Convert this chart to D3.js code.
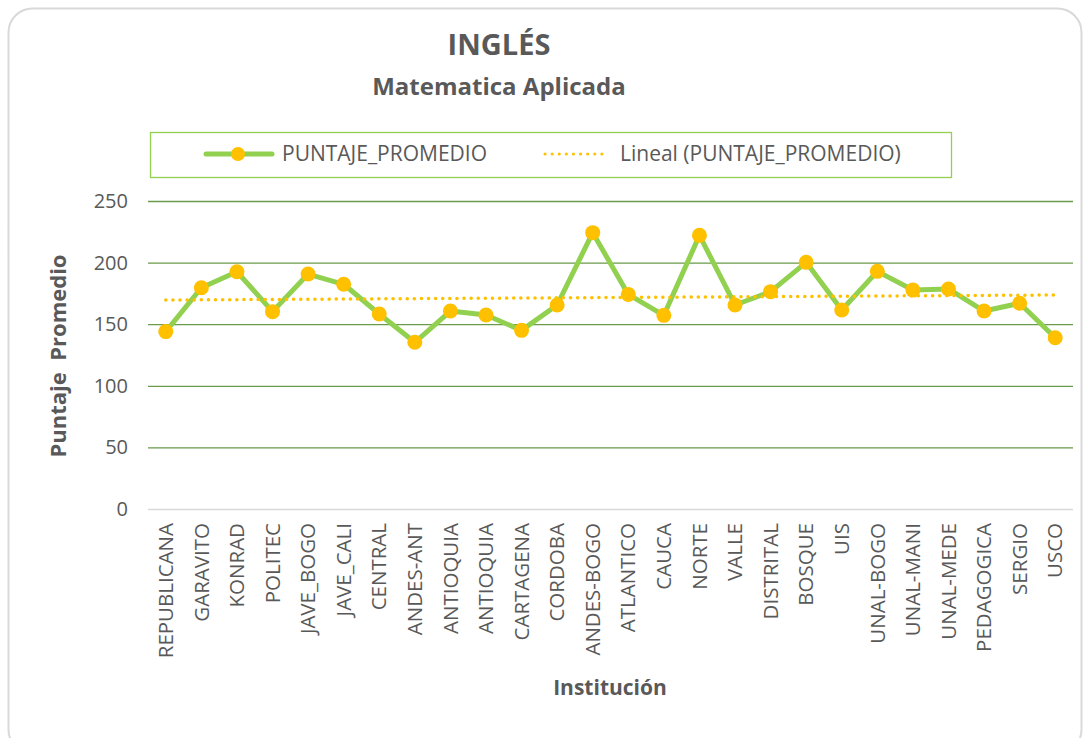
<!DOCTYPE html>
<html>
<head>
<meta charset="utf-8">
<script src="https://cdn.jsdelivr.net/npm/d3@7"></script>
<style>
  html, body { margin: 0; padding: 0; background: #fff; }
  svg text { font-family: "Open Sans", "Noto Sans", sans-serif; fill: #595959; }
</style>
</head>
<body>
<svg id="chart" width="1086" height="738"></svg>
<script>
// Data
const INSTITUCIONES = ["REPUBLICANA", "GARAVITO", "KONRAD", "POLITEC", "JAVE_BOGO", "JAVE_CALI",
  "CENTRAL", "ANDES-ANT", "ANTIOQUIA", "ANTIOQUIA", "CARTAGENA", "CORDOBA", "ANDES-BOGO",
  "ATLANTICO", "CAUCA", "NORTE", "VALLE", "DISTRITAL", "BOSQUE", "UIS", "UNAL-BOGO",
  "UNAL-MANI", "UNAL-MEDE", "PEDAGOGICA", "SERGIO", "USCO"];
const PUNTAJE_PROMEDIO = [144, 179.6, 192.6, 160.2, 190.7, 182.4, 158.3, 135.3, 160.7, 157.5,
  145, 165.6, 224.3, 174.2, 157.2, 222.1, 165.6, 176.4, 200.2, 161.5, 192.9, 177.7, 178.6,
  160.7, 167, 139];
// Linear trend (first and last category)
const TENDENCIA = [169.6, 173.7];
const Y_TICKS = [0, 50, 100, 150, 200, 250];

const GREEN = "#92d050";
const ORANGE = "#ffc000";

const svg = d3.select("#chart");
const margin = { top: 201, right: 13, bottom: 229, left: 148 };
const W = 1086, H = 738;
const w = W - margin.left - margin.right;
const h = H - margin.top - margin.bottom;

// outer chart frame
svg.append("rect")
  .attr("x", 8.5).attr("y", 8.5)
  .attr("width", 1073).attr("height", 745)
  .attr("rx", 24)
  .attr("fill", "#fff")
  .attr("stroke", "#d9d9d9")
  .attr("stroke-width", 2);

// titles
svg.append("text")
  .attr("x", 499).attr("y", 55)
  .attr("text-anchor", "middle")
  .attr("font-size", "29px").attr("font-weight", "bold")
  .text("INGLÉS");
svg.append("text")
  .attr("x", 499).attr("y", 95)
  .attr("text-anchor", "middle")
  .attr("font-size", "24px").attr("font-weight", "bold")
  .text("Matematica Aplicada");

const g = svg.append("g").attr("transform", `translate(${margin.left},${margin.top})`);

const x = d3.scaleBand()
  .domain(d3.range(INSTITUCIONES.length))
  .range([0, w]);
const y = d3.scaleLinear().domain([0, 250]).range([h, 0]);
const cx = i => x(i) + x.bandwidth() / 2;

// gridlines + y labels
g.append("g")
  .call(d3.axisLeft(y).tickValues(Y_TICKS).tickSize(-w).tickPadding(20))
  .call(a => a.select(".domain").remove())
  .call(a => a.selectAll(".tick line")
    .attr("stroke", d => d === 0 ? "#d9d9d9" : "#6a9a4a")
    .attr("stroke-width", 1.3))
  .call(a => a.selectAll(".tick text")
    .attr("font-size", "20px").attr("fill", "#595959")
    .style("font-family", "'Open Sans', sans-serif"));

// x labels
g.append("g")
  .attr("transform", `translate(0,${h})`)
  .call(d3.axisBottom(x).tickSize(0).tickFormat(i => INSTITUCIONES[i]))
  .call(a => a.select(".domain").remove())
  .call(a => a.selectAll(".tick text")
    .attr("transform", "rotate(-90)")
    .attr("text-anchor", "end")
    .attr("x", -14).attr("y", 0).attr("dy", "0.35em")
    .attr("font-size", "20.5px").attr("fill", "#595959")
    .style("font-family", "'Open Sans', sans-serif"));

// axis titles
svg.append("text")
  .attr("transform", "translate(66,356) rotate(-90)")
  .attr("text-anchor", "middle")
  .attr("font-size", "22px").attr("font-weight", "bold")
  .attr("xml:space", "preserve")
  .text("Puntaje  Promedio");
svg.append("text")
  .attr("x", 610).attr("y", 695)
  .attr("text-anchor", "middle")
  .attr("font-size", "21px").attr("font-weight", "bold")
  .text("Institución");

// series line
const line = d3.line().x((d, i) => cx(i)).y(d => y(d));
g.append("path")
  .datum(PUNTAJE_PROMEDIO)
  .attr("d", line)
  .attr("fill", "none")
  .attr("stroke", GREEN)
  .attr("stroke-width", 5)
  .attr("stroke-linejoin", "round");

// trend line
g.append("line")
  .attr("x1", cx(0)).attr("y1", y(TENDENCIA[0]))
  .attr("x2", cx(INSTITUCIONES.length - 1)).attr("y2", y(TENDENCIA[1]))
  .attr("stroke", ORANGE)
  .attr("stroke-width", 3.5)
  .attr("stroke-dasharray", "0.1,7")
  .attr("stroke-linecap", "round");

// markers
g.selectAll(".pt")
  .data(PUNTAJE_PROMEDIO)
  .join("circle")
  .attr("class", "pt")
  .attr("cx", (d, i) => cx(i))
  .attr("cy", d => y(d))
  .attr("r", 7.5)
  .attr("fill", ORANGE);

// legend
const leg = svg.append("g");
leg.append("rect")
  .attr("x", 150.5).attr("y", 132.5)
  .attr("width", 801).attr("height", 45)
  .attr("fill", "none")
  .attr("stroke", GREEN)
  .attr("stroke-width", 1.3);
leg.append("line")
  .attr("x1", 206).attr("x2", 272).attr("y1", 154).attr("y2", 154)
  .attr("stroke", GREEN).attr("stroke-width", 5).attr("stroke-linecap", "round");
leg.append("circle").attr("cx", 238).attr("cy", 154).attr("r", 7).attr("fill", ORANGE);
leg.append("text").attr("x", 282).attr("y", 161).attr("font-size", "21px").text("PUNTAJE_PROMEDIO");
leg.append("line")
  .attr("x1", 545).attr("x2", 608).attr("y1", 154).attr("y2", 154)
  .attr("stroke", ORANGE).attr("stroke-width", 3)
  .attr("stroke-dasharray", "0.1,7").attr("stroke-linecap", "round");
leg.append("text").attr("x", 620).attr("y", 161).attr("font-size", "21px").text("Lineal (PUNTAJE_PROMEDIO)");
</script>
</body>
</html>
